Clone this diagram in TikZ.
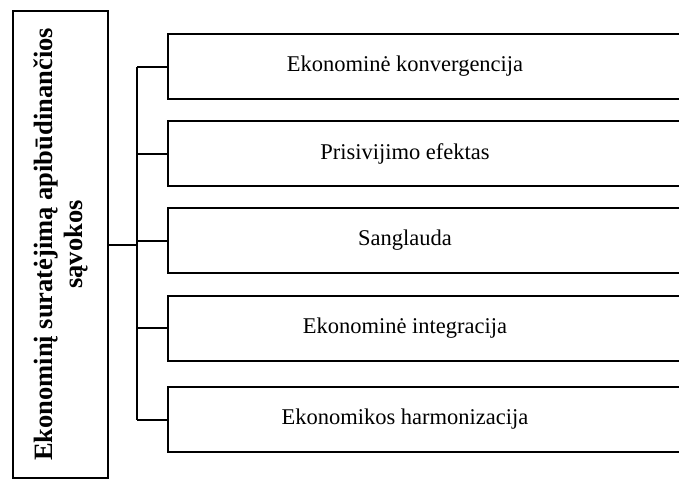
\documentclass[tikz,border=0pt]{standalone}
\usepackage{fontspec}
\setmainfont{Liberation Serif}
\begin{document}
\begin{tikzpicture}[x=1pt,y=-1pt,
  frame/.style={draw=black, line width=2pt},
  itembox/.style={frame, rectangle, anchor=west, minimum width=560pt, minimum height=65pt, inner sep=0pt},
  itemtext/.style={font=\fontsize{22.5}{26}\selectfont},
  link/.style={draw=black, line width=2pt}
]
\clip (0,0) rectangle (679,480);
\fill[white] (0,0) rectangle (679,480);

\node[frame, rectangle, rotate=90, minimum width=467pt, minimum height=95pt, inner sep=0pt,
      align=center, font=\fontsize{26.5}{30}\selectfont\bfseries] (L) at (60.5,244.5)
  {Ekonominį suratėjimą apibūdinančios\\sąvokos};

\coordinate (bx) at (137,0);

\node[itembox] (b1) at (167,66.5) {};
\node[itembox] (b2) at (167,153.5) {};
\node[itembox] (b3) at (167,240.5) {};
\node[itembox] (b4) at (167,328) {};
\node[itembox] (b5) at (167,419.5) {};

\node[itemtext] (t1) at (405,66.5) {Ekonominė konvergencija};
\node[itemtext] (t2) at (405,153.5) {Prisivijimo efektas};
\node[itemtext] (t3) at (405,240.5) {Sanglauda};
\node[itemtext] (t4) at (405,328) {Ekonominė integracija};
\node[itemtext] (t5) at (405,419.5) {Ekonomikos harmonizacija};

\draw[link] (L.south) -- (L.south -| bx);
\draw[link] (b1.west -| bx) -- (b5.west -| bx);
\foreach \i in {1,...,5} {
  \draw[link] (b\i.west -| bx) -- (b\i.west);
}
\end{tikzpicture}
\end{document}
